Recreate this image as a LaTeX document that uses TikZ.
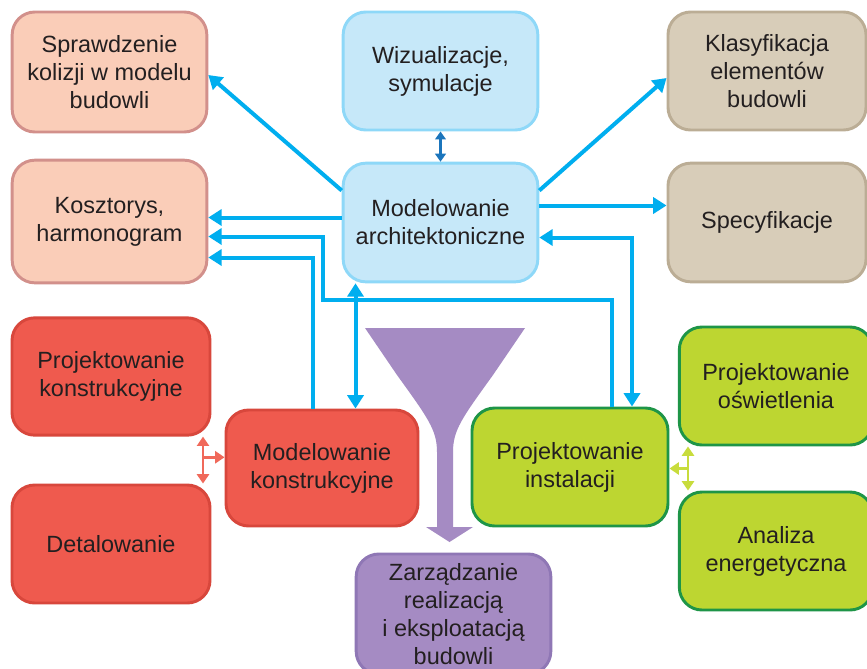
\documentclass[tikz,border=0pt]{standalone}
\usepackage{fontspec}
\setmainfont{Liberation Sans}
\usepackage{xcolor}
\usepackage{tikz}
\usetikzlibrary{calc,arrows.meta}
\definecolor{ink}{HTML}{231F20}
\definecolor{flow}{HTML}{00AEEF}
\definecolor{flowdark}{HTML}{1B75BC}
\definecolor{salmon}{HTML}{FACDB8}
\definecolor{salmonrim}{HTML}{D2908B}
\definecolor{sky}{HTML}{C6E8F9}
\definecolor{skyrim}{HTML}{8ED8F8}
\definecolor{tan}{HTML}{D8CDB9}
\definecolor{tanrim}{HTML}{BBAD95}
\definecolor{brick}{HTML}{EF5A4E}
\definecolor{brickrim}{HTML}{D8473C}
\definecolor{brickline}{HTML}{F0695A}
\definecolor{lime}{HTML}{BDD631}
\definecolor{limerim}{HTML}{1E9547}
\definecolor{limeline}{HTML}{C8DC3C}
\definecolor{lilac}{HTML}{A58BC3}
\definecolor{lilacrim}{HTML}{8F77B5}
\tikzset{
  box/.style={rounded corners=17pt, line width=2.2pt, align=center, text=ink,
    font=\fontsize{17.6}{21}\selectfont, inner sep=0pt},
  pink/.style={box, fill=salmon, draw=salmonrim},
  blue/.style={box, fill=sky, draw=skyrim},
  khaki/.style={box, fill=tan, draw=tanrim},
  red/.style={box, fill=brick, draw=brickrim},
  green/.style={box, fill=lime, draw=limerim},
  violet/.style={box, fill=lilac, draw=lilacrim},
  link/.style={draw=flow, line width=3pt, -{Triangle[length=10pt,width=12pt]}},
  twolink/.style={draw=flow, line width=3pt, {Triangle[length=10pt,width=12pt]}-{Triangle[length=10pt,width=12pt]}},
  viz/.style={draw=flowdark, line width=2pt, {Triangle[length=6pt,width=8pt]}-{Triangle[length=6pt,width=8pt]}},
  redlink/.style={draw=brickline, line width=2pt, -{Triangle[length=7pt,width=9pt]}},
  redtwo/.style={draw=brickline, line width=2pt, {Triangle[length=7pt,width=9pt]}-{Triangle[length=7pt,width=9pt]}},
  limelink/.style={draw=limeline, line width=2pt, -{Triangle[length=7pt,width=9pt]}},
  limetwo/.style={draw=limeline, line width=2pt, {Triangle[length=7pt,width=9pt]}-{Triangle[length=7pt,width=9pt]}},
}

\begin{document}
\begin{tikzpicture}[x=0.75pt, y=-0.75pt]
  \clip (0,0) rectangle (867,668);
  \fill[white] (0,0) rectangle (867,668);

  % top row
  \node[pink, minimum width=146pt, minimum height=90pt] (spr) at (109.5,72) {Sprawdzenie\\kolizji w modelu\\budowli};
  \node[blue, minimum width=146pt, minimum height=88.5pt] (wiz) at (440.5,71) {Wizualizacje,\\symulacje};
  \node[khaki, minimum width=148.5pt, minimum height=88.5pt] (kla) at (767,71) {Klasyfikacja\\elementów\\budowli};

  % middle row
  \node[pink, minimum width=146pt, minimum height=92pt] (kos) at (109.5,221.5) {Kosztorys,\\harmonogram};
  \node[blue, minimum width=146pt, minimum height=89pt] (arch) at (440.5,222.5) {Modelowanie\\architektoniczne};
  \node[khaki, minimum width=148.5pt, minimum height=89pt] (spec) at (767,222.5) {Specyfikacje};

  % lower part
  \node[red, minimum width=148.5pt, minimum height=88pt] (pkon) at (111,376.5) {Projektowanie\\konstrukcyjne};
  \node[red, minimum width=144pt, minimum height=87pt] (mkon) at (322,468) {Modelowanie\\konstrukcyjne};
  \node[red, minimum width=148.5pt, minimum height=88.5pt] (det) at (111,544) {Detalowanie};
  \node[green, minimum width=147pt, minimum height=88.5pt] (pins) at (570,467) {Projektowanie\\instalacji};
  \node[green, minimum width=145pt, minimum height=88.5pt] (posw) at (776,386) {Projektowanie\\oświetlenia};
  \node[green, minimum width=145pt, minimum height=88.5pt] (ana) at (776,551) {Analiza\\energetyczna};

  % funnel
  \fill[lilac] (365,328) -- (525,328) -- (493,375)
    .. controls (462,418) and (453,430) .. (453,452) -- (453,527)
    -- (473,527) -- (449.5,542) -- (426,527) -- (437,527) -- (437,452)
    .. controls (437,430) and (428,418) .. (397,375) -- cycle;
  \node[violet, minimum width=146pt, minimum height=90pt] (zarz) at (453.5,614) {Zarządzanie\\realizacją\\i eksploatacją\\budowli};

  % connectors
  \draw[link] ($(arch.west)+(0,-32)$) -- ($(spr.east)+(0,3)$);
  \draw[link] ($(arch.east)+(0,-32)$) -- ($(kla.west)+(0,7)$);
  \draw[link] ($(arch.east)+(0,-17)$) coordinate (s) -- (s -| spec.west);
  \draw[link] ($(arch.west)+(0,-5)$) coordinate (k) -- (k -| kos.east);
  \coordinate (bend) at (323,300);
  \draw[link] ($(pins.north)+(42,0)$) |- (bend) |- ($(kos.east)+(0,15)$);
  \draw[link] ($(mkon.north)+(-9,0)$) |- ($(kos.east)+(0,36)$);
  \draw[twolink] ($(arch.south)+(-85,0)$) coordinate (m) -- (m |- mkon.north);
  \draw[twolink] ($(arch.east)+(0,15)$) -| ($(pins.north)+(62,0)$);
  \draw[viz] (wiz.south) -- (arch.north);

  \draw[redtwo] ($(pkon.south)+(92,0)$) coordinate (r1) -- ($(det.north)+(92,0)$) coordinate (r2);
  \coordinate (r3) at ($(r1)!0.44!(r2)$);
  \draw[redlink] (r3) -- (r3 -| mkon.west);

  \draw[limetwo] ($(posw.south)+(-88,0)$) coordinate (g1) -- ($(ana.north)+(-88,0)$) coordinate (g2);
  \coordinate (g3) at ($(g1)!0.5!(g2)$);
  \draw[limelink] (g3) -- (g3 -| pins.east);
\end{tikzpicture}
\end{document}
